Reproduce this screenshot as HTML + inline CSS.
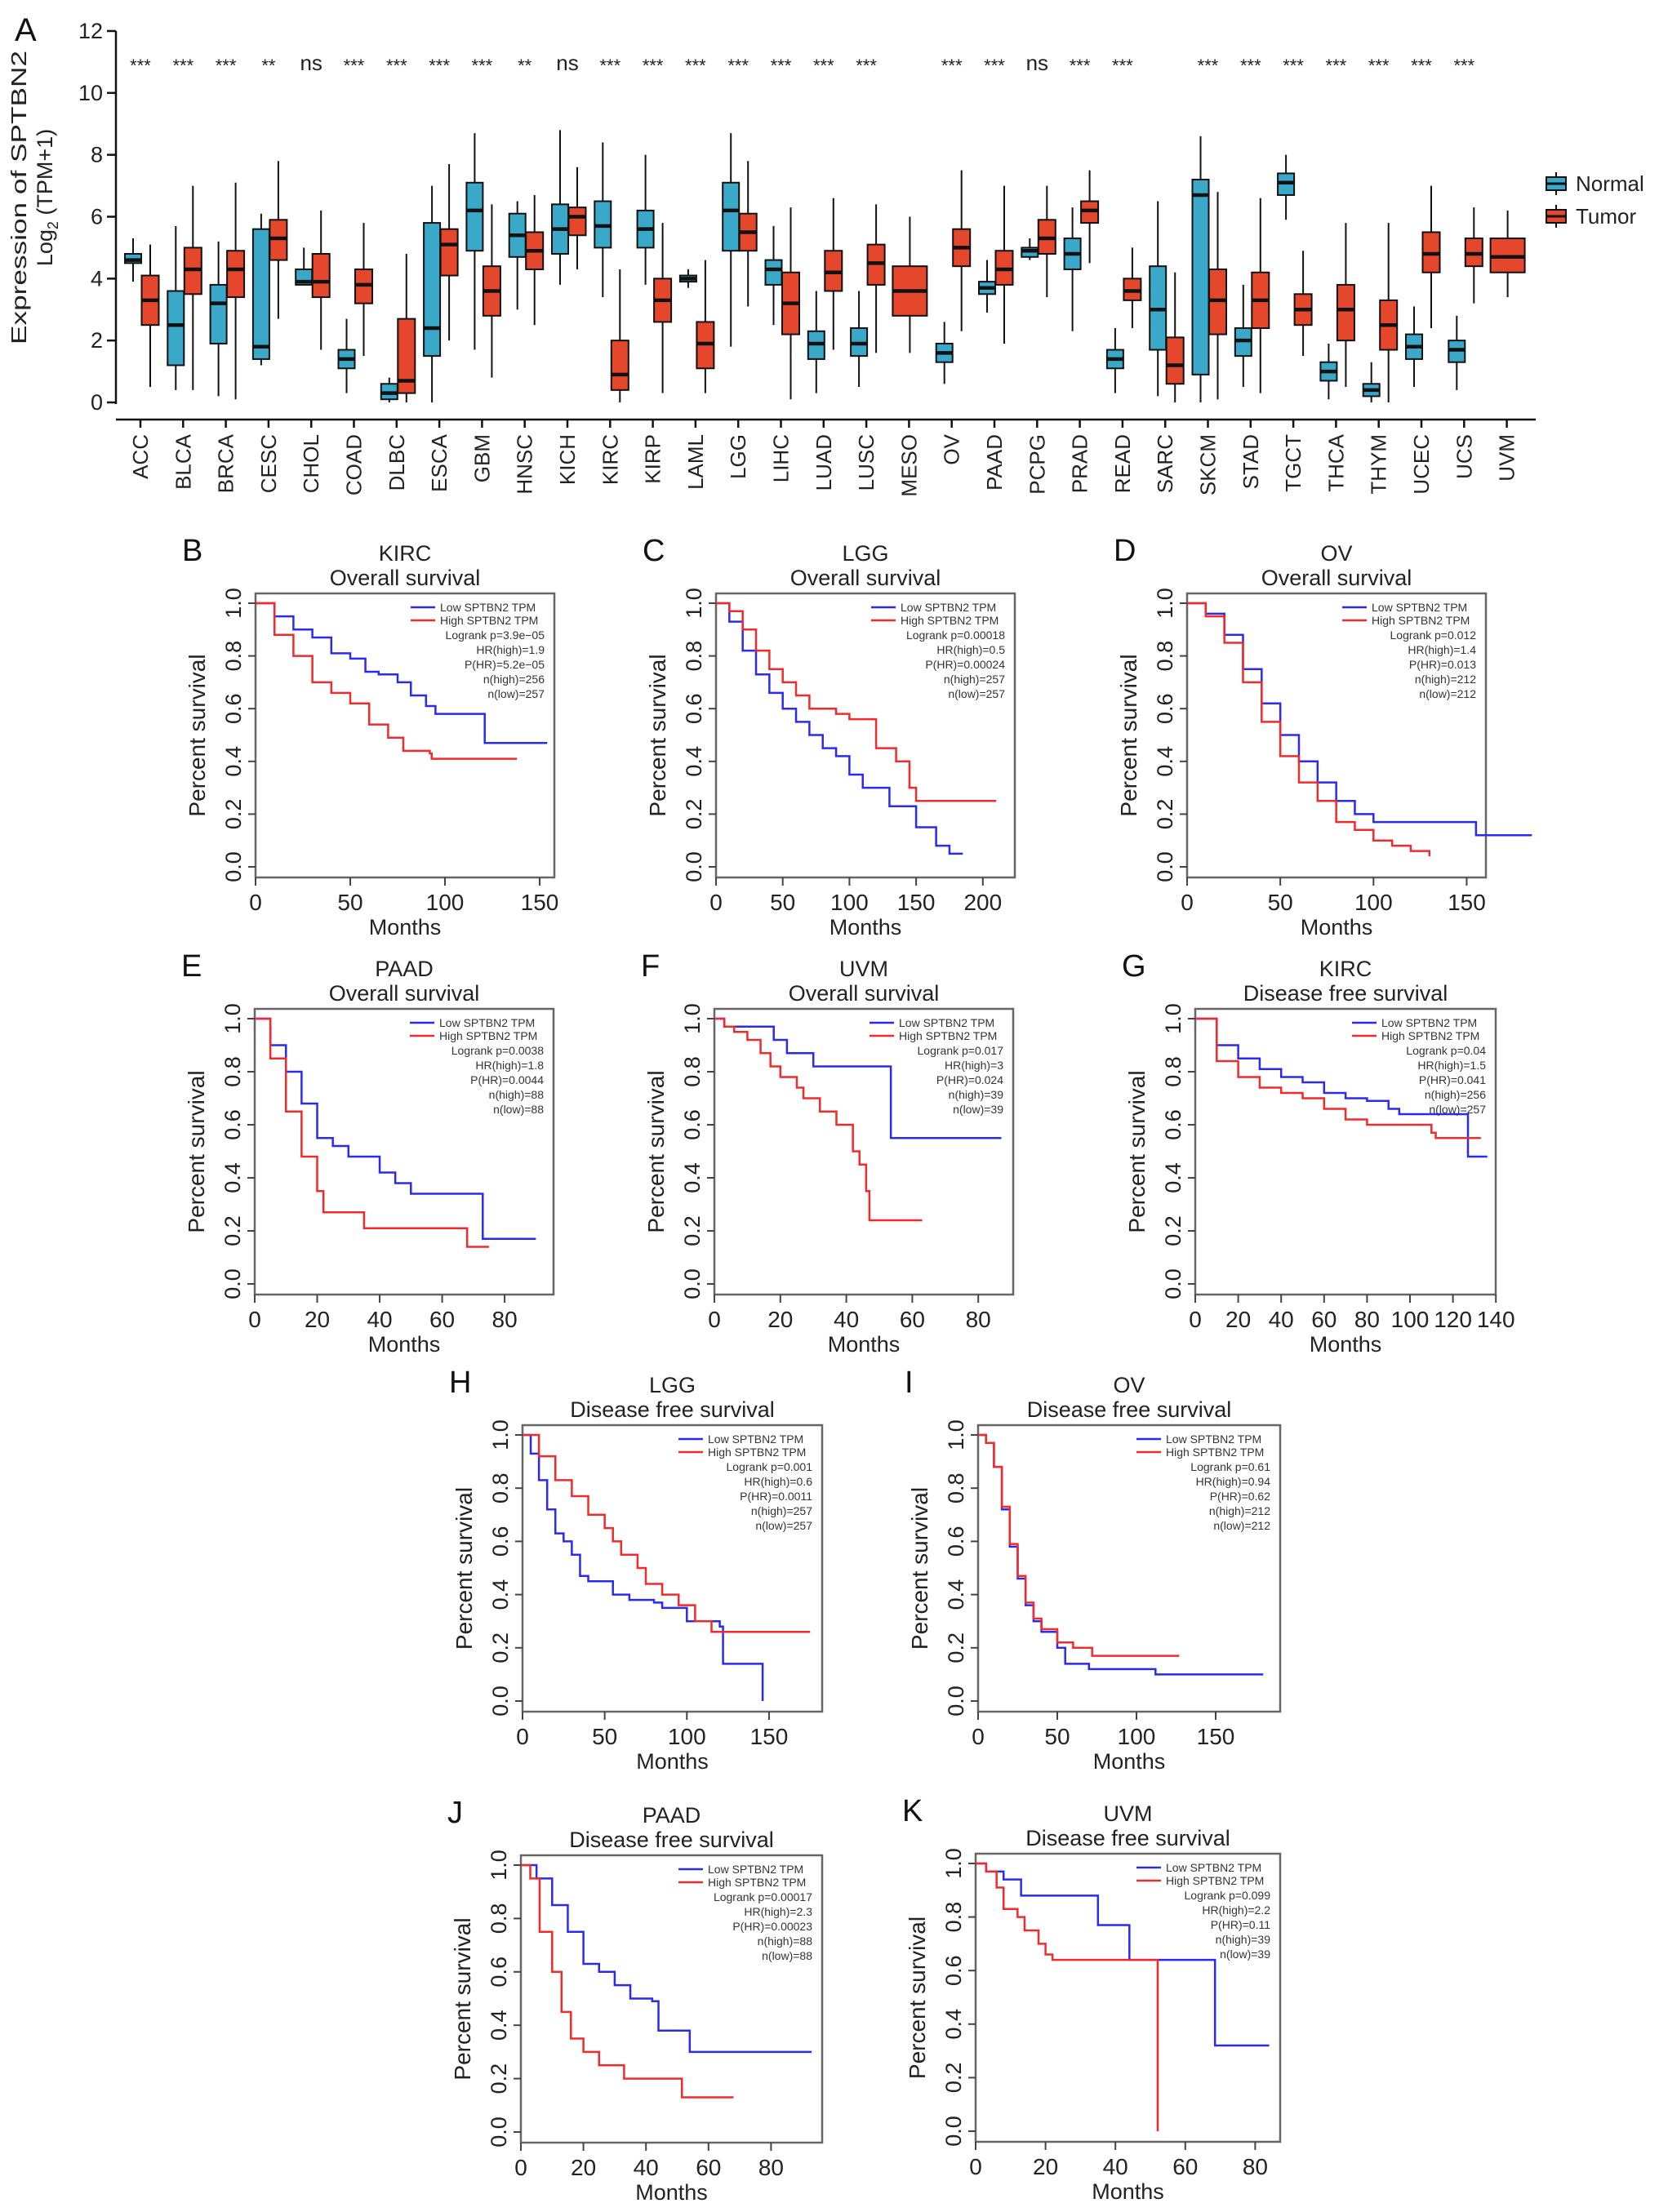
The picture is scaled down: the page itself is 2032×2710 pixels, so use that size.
<!DOCTYPE html>
<html><head><meta charset="utf-8">
<style>
html,body{margin:0;padding:0;background:#fff;}
svg{display:block;font-family:"Liberation Sans",Arial,sans-serif;}
</style></head>
<body>
<svg id="fig" width="2032" height="2710" viewBox="0 0 2032 2710" xmlns="http://www.w3.org/2000/svg">
<rect x="0" y="0" width="2032" height="2710" fill="#fff"/>
</svg>
<script>
// ===== Panel A data =====
const cancers = ["ACC","BLCA","BRCA","CESC","CHOL","COAD","DLBC","ESCA","GBM","HNSC","KICH","KIRC","KIRP","LAML","LGG","LIHC","LUAD","LUSC","MESO","OV","PAAD","PCPG","PRAD","READ","SARC","SKCM","STAD","TGCT","THCA","THYM","UCEC","UCS","UVM"];
const signif = ["***","***","***","**","ns","***","***","***","***","**","ns","***","***","***","***","***","***","***","","***","***","ns","***","***","","***","***","***","***","***","***","***",""];
// normal: [median, q1, q3, whiskerLo, whiskerHi] (null = absent)
const normalStats = [
[4.6,4.5,4.8,3.9,5.3],[2.5,1.2,3.6,0.4,5.7],[3.2,1.9,3.8,0.2,5.2],[1.8,1.4,5.6,1.2,6.1],[3.9,3.8,4.3,3.8,5.0],
[1.4,1.1,1.7,0.3,2.7],[0.3,0.1,0.6,0.0,0.8],[2.4,1.5,5.8,0.0,7.0],[6.2,4.9,7.1,1.7,8.7],[5.4,4.7,6.1,3.0,6.5],
[5.6,4.8,6.4,3.8,8.8],[5.7,5.0,6.5,3.4,8.4],[5.6,5.0,6.2,3.8,8.0],[4.0,3.9,4.1,3.7,4.3],[6.2,4.9,7.1,1.8,8.7],
[4.3,3.8,4.6,2.5,5.7],[1.9,1.4,2.3,0.3,3.6],[1.9,1.5,2.4,0.5,3.6],null,[1.6,1.3,1.9,0.6,2.6],
[3.7,3.5,3.9,2.9,4.6],[4.9,4.7,5.0,4.6,5.3],[4.8,4.3,5.3,2.3,6.3],[1.4,1.1,1.7,0.3,2.4],[3.0,1.7,4.4,0.2,6.5],
[6.7,0.9,7.2,0.0,8.6],[2.0,1.5,2.4,0.5,3.8],[7.1,6.7,7.4,5.9,8.0],[1.0,0.7,1.3,0.1,1.9],[0.4,0.2,0.6,0.0,1.3],
[1.8,1.4,2.2,0.5,3.1],[1.7,1.3,2.0,0.4,2.8],null];
const tumorStats = [
[3.3,2.5,4.1,0.5,5.1],[4.3,3.5,5.0,0.4,7.0],[4.3,3.4,4.9,0.1,7.1],[5.3,4.6,5.9,2.7,7.8],[3.9,3.4,4.8,1.7,6.2],
[3.8,3.2,4.3,1.5,5.8],[0.7,0.3,2.7,0.0,4.8],[5.1,4.1,5.6,2.0,7.7],[3.6,2.8,4.4,0.8,6.4],[4.9,4.3,5.5,2.5,6.7],
[6.0,5.4,6.3,4.3,7.6],[0.9,0.4,2.0,0.0,4.3],[3.3,2.6,4.0,0.3,5.8],[1.9,1.1,2.6,0.3,4.6],[5.5,4.9,6.1,3.1,7.8],
[3.2,2.2,4.2,0.1,6.3],[4.2,3.6,4.9,1.7,6.6],[4.5,3.8,5.1,1.6,6.4],[3.6,2.8,4.4,1.6,6.0],[5.0,4.4,5.6,2.3,7.5],
[4.3,3.8,4.9,1.9,7.0],[5.3,4.8,5.9,3.4,7.0],[6.2,5.8,6.5,4.5,7.5],[3.6,3.3,4.0,2.4,5.0],[1.2,0.6,2.1,0.0,4.2],
[3.3,2.2,4.3,0.1,6.8],[3.3,2.4,4.2,0.3,6.6],[3.0,2.5,3.5,1.5,4.9],[3.0,2.0,3.8,0.5,5.8],[2.5,1.7,3.3,0.0,5.8],
[4.8,4.2,5.5,2.4,7.0],[4.8,4.4,5.3,3.2,6.3],[4.7,4.2,5.3,3.4,6.2]];
const yTicksA = [0,2,4,6,8,10,12];

// ===== KM data: [months, survival] step points =====
const kircOsLow=[[0,1],[10,0.95],[20,0.9],[30,0.87],[40,0.81],[50,0.79],[58,0.74],[65,0.73],[75,0.7],[82,0.65],[90,0.61],[95,0.58],[120,0.58],[121,0.47],[154,0.47]];
const kircOsHigh=[[0,1],[10,0.88],[20,0.8],[30,0.7],[40,0.66],[50,0.62],[60,0.54],[70,0.49],[78,0.44],[92,0.43],[93,0.41],[138,0.41]];
const lggOsLow=[[0,1],[10,0.93],[20,0.82],[30,0.73],[40,0.66],[50,0.6],[60,0.55],[70,0.5],[80,0.45],[90,0.42],[100,0.35],[110,0.3],[130,0.23],[150,0.15],[165,0.08],[175,0.05],[185,0.05]];
const lggOsHigh=[[0,1],[10,0.97],[20,0.9],[30,0.82],[40,0.75],[50,0.7],[60,0.65],[70,0.6],[90,0.58],[100,0.56],[120,0.45],[135,0.4],[145,0.3],[150,0.25],[210,0.25]];
const ovOsLow=[[0,1],[10,0.96],[20,0.88],[30,0.75],[40,0.62],[50,0.5],[60,0.4],[70,0.32],[80,0.25],[90,0.2],[100,0.17],[150,0.17],[155,0.12],[185,0.12]];
const ovOsHigh=[[0,1],[10,0.95],[20,0.85],[30,0.7],[40,0.55],[50,0.42],[60,0.32],[70,0.25],[80,0.17],[90,0.14],[100,0.1],[110,0.08],[120,0.06],[130,0.04]];
const paadOsLow=[[0,1],[5,0.9],[10,0.8],[15,0.68],[20,0.55],[25,0.52],[30,0.48],[40,0.42],[45,0.38],[50,0.34],[72,0.34],[73,0.17],[90,0.17]];
const paadOsHigh=[[0,1],[5,0.85],[10,0.65],[15,0.48],[20,0.35],[22,0.27],[30,0.27],[35,0.21],[67,0.21],[68,0.14],[75,0.14]];
const uvmOsLow=[[0,1],[3,0.97],[16,0.97],[18,0.92],[22,0.87],[30,0.82],[53,0.82],[53.5,0.55],[87,0.55]];
const uvmOsHigh=[[0,1],[3,0.97],[6,0.95],[10,0.92],[14,0.87],[17,0.82],[20,0.78],[25,0.74],[27,0.7],[32,0.65],[37,0.6],[42,0.5],[44,0.45],[46,0.35],[47,0.24],[63,0.24]];
const kircDfsLow=[[0,1],[10,0.9],[20,0.85],[30,0.81],[40,0.78],[50,0.76],[60,0.72],[70,0.7],[80,0.69],[90,0.66],[95,0.64],[125,0.64],[127,0.48],[136,0.48]];
const kircDfsHigh=[[0,1],[10,0.84],[20,0.78],[30,0.74],[40,0.72],[50,0.7],[60,0.66],[70,0.62],[80,0.6],[95,0.6],[110,0.57],[112,0.55],[133,0.55]];
const lggDfsLow=[[0,1],[5,0.93],[10,0.83],[15,0.72],[20,0.63],[25,0.6],[30,0.55],[35,0.47],[40,0.45],[50,0.45],[55,0.4],[65,0.38],[80,0.37],[85,0.35],[100,0.3],[120,0.28],[122,0.14],[146,0.14],[146.1,0]];
const lggDfsHigh=[[0,1],[10,0.92],[20,0.83],[30,0.77],[40,0.7],[50,0.65],[55,0.6],[60,0.55],[70,0.5],[75,0.44],[85,0.4],[95,0.36],[105,0.3],[115,0.26],[175,0.26]];
const ovDfsLow=[[0,1],[5,0.97],[10,0.88],[15,0.72],[20,0.58],[25,0.46],[30,0.36],[35,0.3],[40,0.26],[50,0.2],[55,0.14],[70,0.12],[110,0.12],[112,0.1],[180,0.1]];
const ovDfsHigh=[[0,1],[5,0.97],[10,0.88],[15,0.73],[20,0.59],[25,0.47],[30,0.37],[35,0.31],[40,0.27],[50,0.22],[60,0.2],[72,0.17],[127,0.17]];
const paadDfsLow=[[0,1],[5,0.95],[10,0.85],[15,0.75],[20,0.63],[25,0.6],[30,0.55],[35,0.5],[42,0.49],[44,0.38],[53,0.38],[54,0.3],[93,0.3]];
const paadDfsHigh=[[0,1],[3,0.95],[6,0.75],[10,0.6],[13,0.45],[16,0.35],[20,0.3],[25,0.25],[33,0.2],[51,0.2],[51.5,0.13],[68,0.13]];
const uvmDfsLow=[[0,1],[3,0.97],[8,0.94],[13,0.88],[33,0.88],[35,0.77],[43,0.77],[44,0.64],[68,0.64],[68.5,0.32],[84,0.32]];
const uvmDfsHigh=[[0,1],[3,0.97],[6,0.91],[8,0.83],[12,0.8],[14,0.75],[18,0.7],[20,0.66],[22,0.64],[52,0.64],[52.1,0]];
const yTicksKM=[0,0.2,0.4,0.6,0.8,1.0];

const NS="http://www.w3.org/2000/svg";
const svg=document.getElementById('fig');
function mk(tag,attrs,parent){const e=document.createElementNS(NS,tag);for(const k in attrs)e.setAttribute(k,attrs[k]);(parent||svg).appendChild(e);return e;}
function txt(s,attrs,parent){const e=mk('text',attrs,parent);e.textContent=s;return e;}

// ===== Panel A =====
const gA=mk('g',{});


const A={left:142,bottom:514,y0:493,y12:38,c0:172,step:52.3};
function yA(v){return A.y0-(A.y0-A.y12)*v/12;}
function xA(i){return A.c0+i*A.step;}
const la=txt('A',{x:18,y:50,'font-size':40,fill:'#111'},gA);

const axY=mk('line',{x1:A.left,y1:yA(12),x2:A.left,y2:yA(0)+2,stroke:'#111','stroke-width':2.5},gA);

yTicksA.forEach(v=>{
  mk('line',{x1:A.left-11,y1:yA(v),x2:A.left,y2:yA(v),stroke:'#111','stroke-width':2.5},gA);
  const t=txt(String(v),{x:A.left-16,y:yA(v)+9,'font-size':27,'text-anchor':'end',fill:'#222'},gA);
  
});
const axX=mk('line',{x1:A.left,y1:A.bottom,x2:1881,y2:A.bottom,stroke:'#111','stroke-width':2.5},gA);

const yt1=txt('Expression of SPTBN2',{transform:'translate(32,242) rotate(-90)','font-size':26,'text-anchor':'middle',textLength:360,lengthAdjust:'spacingAndGlyphs',fill:'#222'},gA);

const yt2=mk('text',{transform:'translate(64,242) rotate(-90)','font-size':27,'text-anchor':'middle',fill:'#222'},gA);

yt2.innerHTML='Log<tspan font-size="18" dy="7">2</tspan><tspan dy="-7"> (TPM+1)</tspan>';
function drawBox(s,cx,w,fill,name){
  if(!s)return;
  const g=mk('g',{},gA);
  
  mk('line',{x1:cx,y1:yA(s[4]),x2:cx,y2:yA(s[3]),stroke:'#111','stroke-width':2},g);
  mk('rect',{x:cx-w/2,y:yA(s[2]),width:w,height:yA(s[1])-yA(s[2]),fill:fill,stroke:'#111','stroke-width':2},g);
  mk('line',{x1:cx-w/2,y1:yA(s[0]),x2:cx+w/2,y2:yA(s[0]),stroke:'#111','stroke-width':4.5},g);
}
cancers.forEach((c,i)=>{
  const cx=xA(i);
  const single=!normalStats[i];
  drawBox(normalStats[i],cx-9,20,'#3AA8C8','box-normal-'+c.toLowerCase());
  if(single) drawBox(tumorStats[i],cx+1,42,'#E5472D','box-tumor-'+c.toLowerCase());
  else drawBox(tumorStats[i],cx+12,21,'#E5472D','box-tumor-'+c.toLowerCase());
  mk('line',{x1:cx,y1:A.bottom,x2:cx,y2:A.bottom+10,stroke:'#111','stroke-width':2.5},gA);
  const lab=txt(c,{transform:`translate(${cx+9},${A.bottom+18}) rotate(-90)`,'font-size':26,'text-anchor':'end',fill:'#222'},gA);
  
  if(signif[i]){
    const st=txt(signif[i],{x:cx,y:signif[i]==='ns'?86:88,'font-size':signif[i]==='ns'?26:22,'text-anchor':'middle',fill:'#222'},gA);
    
  }
});
[['Normal','#3AA8C8',225],['Tumor','#E5472D',265]].forEach(([n,col,y])=>{
  const g=mk('g',{},gA);
  
  mk('line',{x1:1906,y1:y-14,x2:1906,y2:y+14,stroke:'#111','stroke-width':2},g);
  mk('rect',{x:1894,y:y-8,width:24,height:16,fill:col,stroke:'#111','stroke-width':2},g);
  mk('line',{x1:1894,y1:y,x2:1918,y2:y,stroke:'#111','stroke-width':3},g);
  txt(n,{x:1930,y:y+9,'font-size':26,fill:'#222'},g);
});

// ===== KM panels =====
const panels=[
 {id:'b',letter:'B',t1:'KIRC',t2:'Overall survival',left:313,top:727,w:366,h:348,ppm:2.32,xt:[0,50,100,150],low:kircOsLow,high:kircOsHigh,st:['3.9e\u221205','1.9','5.2e\u221205','256','257']},
 {id:'c',letter:'C',t1:'LGG',t2:'Overall survival',left:877,top:727,w:366,h:348,ppm:1.634,xt:[0,50,100,150,200],low:lggOsLow,high:lggOsHigh,st:['0.00018','0.5','0.00024','257','257']},
 {id:'d',letter:'D',t1:'OV',t2:'Overall survival',left:1454,top:727,w:366,h:348,ppm:2.283,xt:[0,50,100,150],low:ovOsLow,high:ovOsHigh,st:['0.012','1.4','0.013','212','212']},
 {id:'e',letter:'E',t1:'PAAD',t2:'Overall survival',left:312,top:1236,w:366,h:350,ppm:3.826,xt:[0,20,40,60,80],low:paadOsLow,high:paadOsHigh,st:['0.0038','1.8','0.0044','88','88']},
 {id:'f',letter:'F',t1:'UVM',t2:'Overall survival',left:875,top:1236,w:366,h:350,ppm:4.04,xt:[0,20,40,60,80],low:uvmOsLow,high:uvmOsHigh,st:['0.017','3','0.024','39','39']},
 {id:'g',letter:'G',t1:'KIRC',t2:'Disease free survival',left:1464,top:1236,w:368,h:350,ppm:2.63,xt:[0,20,40,60,80,100,120,140],low:kircDfsLow,high:kircDfsHigh,st:['0.04','1.5','0.041','256','257']},
 {id:'h',letter:'H',t1:'LGG',t2:'Disease free survival',left:640,top:1746,w:367,h:351,ppm:2.013,xt:[0,50,100,150],low:lggDfsLow,high:lggDfsHigh,st:['0.001','0.6','0.0011','257','257']},
 {id:'i',letter:'I',t1:'OV',t2:'Disease free survival',left:1198,top:1746,w:370,h:351,ppm:1.94,xt:[0,50,100,150],low:ovDfsLow,high:ovDfsHigh,st:['0.61','0.94','0.62','212','212']},
 {id:'j',letter:'J',t1:'PAAD',t2:'Disease free survival',left:638,top:2273,w:369,h:352,ppm:3.83,xt:[0,20,40,60,80],low:paadDfsLow,high:paadDfsHigh,st:['0.00017','2.3','0.00023','88','88']},
 {id:'k',letter:'K',t1:'UVM',t2:'Disease free survival',left:1195,top:2271,w:373,h:353,ppm:4.28,xt:[0,20,40,60,80],low:uvmDfsLow,high:uvmDfsHigh,st:['0.099','2.2','0.11','39','39']}
];
panels.forEach(p=>{
  const g=mk('g',{});
  
  
  const xS=t=>p.left+t*p.ppm;
  const yS=s=>p.top+12+(1-s)*(p.h-25);
  const L=txt(p.letter,{x:p.left-90,y:p.top-40,'font-size':38,fill:'#111'},g);
  
  const cx=p.left+p.w/2;
  const T1=txt(p.t1,{x:cx,y:p.top-40,'font-size':27,'text-anchor':'middle',fill:'#222'},g);
  
  const T2=txt(p.t2,{x:cx,y:p.top-10,'font-size':27,'text-anchor':'middle',fill:'#222'},g);
  
  const box=mk('rect',{x:p.left,y:p.top,width:p.w,height:p.h,fill:'none',stroke:'#666','stroke-width':2.5},g);
  
  yTicksKM.forEach(v=>{
    mk('line',{x1:p.left-9,y1:yS(v),x2:p.left,y2:yS(v),stroke:'#444','stroke-width':2},g);
    const t=txt(v.toFixed(1),{transform:`translate(${p.left-18},${yS(v)}) rotate(-90)`,'font-size':27,'text-anchor':'middle',fill:'#222'},g);
    
  });
  p.xt.forEach(v=>{
    mk('line',{x1:xS(v),y1:p.top+p.h,x2:xS(v),y2:p.top+p.h+10,stroke:'#444','stroke-width':2},g);
    const t=txt(String(v),{x:xS(v),y:p.top+p.h+40,'font-size':28,'text-anchor':'middle',fill:'#222'},g);
    
  });
  const xl=txt('Months',{x:cx,y:p.top+p.h+70,'font-size':27,'text-anchor':'middle',fill:'#222'},g);
  
  const yl=txt('Percent survival',{transform:`translate(${p.left-62},${p.top+p.h/2}) rotate(-90)`,'font-size':28,'text-anchor':'middle',fill:'#222'},g);
  
  function step(pts){
    let d=`M${xS(pts[0][0])},${yS(pts[0][1])}`;
    for(let i=1;i<pts.length;i++){d+=` H${xS(pts[i][0])} V${yS(pts[i][1])}`;}
    return d;
  }
  const lo=mk('path',{d:step(p.low),fill:'none',stroke:'#2B2BF0','stroke-width':2.5},g);
  
  const hi=mk('path',{d:step(p.high),fill:'none',stroke:'#F02B2B','stroke-width':2.5},g);
  
  const R=p.left+p.w;
  const lg=mk('g',{},g);
  
  mk('line',{x1:R-176,y1:p.top+17,x2:R-146,y2:p.top+17,stroke:'#2B2BF0','stroke-width':2.5},lg);
  mk('line',{x1:R-176,y1:p.top+33,x2:R-146,y2:p.top+33,stroke:'#F02B2B','stroke-width':2.5},lg);
  txt('Low SPTBN2 TPM',{x:R-140,y:p.top+22,'font-size':14,fill:'#333'},lg);
  txt('High SPTBN2 TPM',{x:R-140,y:p.top+38,'font-size':14,fill:'#333'},lg);
  const lines=['Logrank p='+p.st[0],'HR(high)='+p.st[1],'P(HR)='+p.st[2],'n(high)='+p.st[3],'n(low)='+p.st[4]];
  lines.forEach((s,i)=>txt(s,{x:R-12,y:p.top+56+i*18,'font-size':14,'text-anchor':'end',fill:'#333'},lg));
});
</script>
</body></html>
